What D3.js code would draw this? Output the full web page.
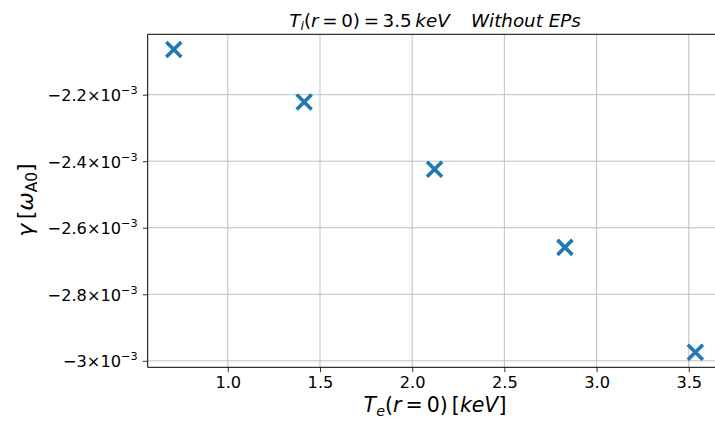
<!DOCTYPE html>
<html>
<head>
<meta charset="utf-8">
<script src="https://cdn.jsdelivr.net/npm/d3@7/dist/d3.min.js"></script>
<style>
  html, body { margin: 0; padding: 0; background: #fff; }
  svg { display: block; font-family: "DejaVu Sans", sans-serif; }
</style>
</head>
<body>
<svg id="chart" width="715" height="422"></svg>
<script>
// Central electron temperature scan [keV]
const teValues = [0.7071, 1.4142, 2.1213, 2.8284, 3.5355];
// Growth rate gamma in units of omega_A0
const gammaValues = [-2.064e-3, -2.222e-3, -2.424e-3, -2.659e-3, -2.974e-3];
// Axis ticks
const xTicks = [1.0, 1.5, 2.0, 2.5, 3.0, 3.5];
const xTickLabels = ["1.0", "1.5", "2.0", "2.5", "3.0", "3.5"];
const yTicks = [-2.2e-3, -2.4e-3, -2.6e-3, -2.8e-3, -3.0e-3];
const yTickMantissas = ["\u22122.2", "\u22122.4", "\u22122.6", "\u22122.8", "\u22123"];

const svg = d3.select("#chart");
const plot = { left: 147.7, top: 34.3, right: 721.4, bottom: 367.3 };

// 5% padding around the data range on both axes
function padded(vals) {
  const lo = d3.min(vals), hi = d3.max(vals), m = (hi - lo) * 0.05;
  return [lo - m, hi + m];
}

const x = d3.scaleLinear().domain(padded(teValues)).range([plot.left, plot.right]);
const y = d3.scaleLinear().domain(padded(gammaValues)).range([plot.bottom, plot.top]);

// Grid
const grid = svg.append("g").attr("stroke", "#b0b0b0").attr("stroke-width", 0.8);
grid.selectAll("line.gx").data(xTicks).enter().append("line")
  .attr("x1", d => x(d)).attr("x2", d => x(d))
  .attr("y1", plot.top).attr("y2", plot.bottom);
grid.selectAll("line.gy").data(yTicks).enter().append("line")
  .attr("x1", plot.left).attr("x2", plot.right)
  .attr("y1", d => y(d)).attr("y2", d => y(d));

// Bottom axis
const xAxis = d3.axisBottom(x).tickValues(xTicks)
  .tickFormat((d, i) => xTickLabels[i]).tickSize(4.9).tickPadding(4.5).tickSizeOuter(0);
const gx = svg.append("g").attr("transform", `translate(0,${plot.bottom})`).call(xAxis);
gx.select(".domain").remove();
gx.selectAll(".tick line").attr("stroke", "#000").attr("stroke-width", 0.8);
gx.selectAll(".tick text").attr("font-size", 16.2).attr("fill", "#000")
  .attr("font-family", "DejaVu Sans");

// Left axis with scientific-notation labels
const yAxis = d3.axisLeft(y).tickValues(yTicks).tickFormat("").tickSize(4.9).tickSizeOuter(0);
const gy = svg.append("g").attr("transform", `translate(${plot.left},0)`).call(yAxis);
gy.select(".domain").remove();
gy.selectAll(".tick line").attr("stroke", "#000").attr("stroke-width", 0.8);
gy.selectAll(".tick").each(function (d, i) {
  const t = d3.select(this).append("text")
    .attr("x", -10).attr("y", 6)
    .attr("text-anchor", "end").attr("fill", "#000")
    .attr("font-size", 16.2).attr("font-family", "DejaVu Sans");
  t.append("tspan").text(yTickMantissas[i] + "\u00d710");
  t.append("tspan").attr("font-size", 11.3).attr("dy", -7).text("\u22123");
});

// Spines (left, bottom, top)
const spine = svg.append("g").attr("stroke", "#000").attr("stroke-width", 1);
spine.append("line").attr("x1", plot.left).attr("x2", plot.left).attr("y1", plot.top).attr("y2", plot.bottom);
spine.append("line").attr("x1", plot.left).attr("x2", plot.right).attr("y1", plot.bottom).attr("y2", plot.bottom);
spine.append("line").attr("x1", plot.left).attr("x2", plot.right).attr("y1", plot.top).attr("y2", plot.top);

// Cross markers
const r = 7.5;
const marks = svg.append("g").attr("stroke", "#1f77b4").attr("stroke-width", 3.6)
  .attr("stroke-linecap", "butt");
teValues.forEach((te, i) => {
  const cx = x(te), cy = y(gammaValues[i]);
  marks.append("path")
    .attr("d", `M${cx - r},${cy - r}L${cx + r},${cy + r}M${cx - r},${cy + r}L${cx + r},${cy - r}`);
});

// Title
const title = svg.append("text").attr("x", 435).attr("y", 26.5)
  .attr("text-anchor", "middle").attr("font-size", 18.3).attr("fill", "#000");
title.append("tspan").attr("font-style", "italic").text("T");
title.append("tspan").attr("font-style", "italic").attr("font-size", 12.8).attr("dy", 3.5).text("i");
title.append("tspan").attr("dy", -3.5).text("(");
title.append("tspan").attr("font-style", "italic").text("r");
title.append("tspan").text("\u2009=\u20090)\u2009=\u20093.5\u2009");
title.append("tspan").attr("font-style", "italic").text("keV");
title.append("tspan").attr("font-style", "italic").text("\u2003\u2006Without EPs");

// X label
const xl = svg.append("text").attr("x", 435).attr("y", 412)
  .attr("text-anchor", "middle").attr("font-size", 20.5).attr("fill", "#000");
xl.append("tspan").attr("font-style", "italic").text("T");
xl.append("tspan").attr("font-style", "italic").attr("font-size", 14.3).attr("dy", 4).text("e");
xl.append("tspan").attr("dy", -4).text("(");
xl.append("tspan").attr("font-style", "italic").text("r");
xl.append("tspan").text("\u2009=\u20090)\u2009[");
xl.append("tspan").attr("font-style", "italic").text("keV");
xl.append("tspan").text("]");

// Y label
const yl = svg.append("text")
  .attr("transform", "translate(33,200) rotate(-90)")
  .attr("text-anchor", "middle").attr("font-size", 22).attr("fill", "#000");
yl.append("tspan").attr("font-style", "italic").text("\u03b3");
yl.append("tspan").text("\u2009[");
yl.append("tspan").attr("font-style", "italic").text("\u03c9");
yl.append("tspan").attr("font-size", 15.4).attr("dy", 4).text("A0");
yl.append("tspan").attr("dy", -4).text("]");
</script>
</body>
</html>
